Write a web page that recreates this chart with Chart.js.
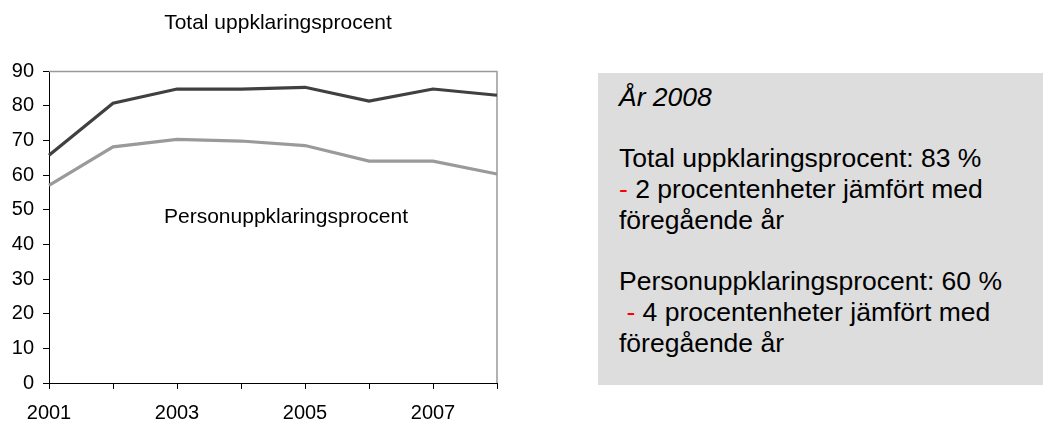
<!DOCTYPE html>
<html lang="sv">
<head>
<meta charset="utf-8">
<title>Uppklaringsprocent</title>
<script src="https://cdn.jsdelivr.net/npm/chart.js@4/dist/chart.umd.min.js"></script>
<style>
    body { margin: 0; background: #fff; }
    .wrap { position: relative; width: 1043px; height: 423px; overflow: hidden; }
    #chart { position: absolute; left: 0; top: 0; }
    .info {
        position: absolute; left: 598px; top: 73px; width: 445px; height: 312px;
        background: #dddddd; box-sizing: border-box; padding: 9px 0 0 21px;
        font-family: "Liberation Sans", Arial, sans-serif; font-size: 26.5px; color: #000;
    }
    .info div { height: 30.7px; line-height: 30.7px; white-space: pre; }
    .info .year { font-style: italic; }
    .red { color: #ff0000; }
</style>
</head>
<body>
<div class="wrap">
    <canvas id="chart" width="1043" height="423"></canvas>
    <div class="info">
        <div class="year">År 2008</div>
        <div></div>
        <div>Total uppklaringsprocent: 83 %</div>
        <div><span class="red">-</span> 2 procentenheter jämfört med</div>
        <div>föregående år</div>
        <div></div>
        <div>Personuppklaringsprocent: 60 %</div>
        <div> <span class="red">-</span> 4 procentenheter jämfört med</div>
        <div>föregående år</div>
    </div>
</div>
<script>
// Data
const years = ["2001", "2002", "2003", "2004", "2005", "2006", "2007", "2008"];
const totalValues = [65.7, 80.7, 84.8, 84.8, 85.3, 81.3, 84.8, 83.0];
const personValues = [57.0, 68.1, 70.3, 69.8, 68.5, 64.0, 64.0, 60.3];
const totalLabel = "Total uppklaringsprocent";
const personLabel = "Personuppklaringsprocent";

const FONT = '"Liberation Sans", Arial, sans-serif';

// Texts and the grey frame on top/right of the plot
const annotations = {
    id: 'annotations',
    beforeDatasetsDraw(chart) {
        const { ctx, chartArea: a } = chart;
        ctx.save();
        ctx.strokeStyle = '#999999';
        ctx.lineWidth = 1.5;
        ctx.beginPath();
        ctx.moveTo(a.left, a.top + 0.5);
        ctx.lineTo(a.right, a.top + 0.5);
        ctx.lineTo(a.right, a.bottom);
        ctx.stroke();
        ctx.restore();
    },
    afterDraw(chart) {
        const { ctx, chartArea: a } = chart;
        ctx.save();
        ctx.fillStyle = '#000';
        ctx.textAlign = 'center';
        ctx.textBaseline = 'alphabetic';
        ctx.font = '21px ' + FONT;
        ctx.fillText(totalLabel, 278, 29);
        ctx.fillText(personLabel, a.left + 237, 223);
        ctx.restore();
    }
};

new Chart(document.getElementById('chart'), {
    type: 'line',
    data: {
        labels: years,
        datasets: [
            { label: totalLabel, data: totalValues, borderColor: '#404040', borderWidth: 3.2 },
            { label: personLabel, data: personValues, borderColor: '#9a9a9a', borderWidth: 3.2 }
        ]
    },
    options: {
        responsive: false,
        animation: false,
        devicePixelRatio: 1,
        layout: { padding: { top: 71, right: 546, bottom: 0, left: 0 } },
        elements: {
            line: { tension: 0, fill: false, borderCapStyle: 'butt', borderJoinStyle: 'miter' },
            point: { radius: 0, hoverRadius: 0 }
        },
        plugins: {
            legend: { display: false },
            title: { display: false },
            tooltip: { enabled: false }
        },
        scales: {
            x: {
                offset: false,
                afterFit: (s) => { s.height = 40; },
                grid: { drawOnChartArea: false, drawTicks: true, tickLength: 6, color: '#000' },
                border: { color: '#000', width: 1 },
                ticks: {
                    autoSkip: false, maxRotation: 0, padding: 12, color: '#000',
                    font: { family: FONT, size: 20 },
                    callback: (v, i) => (i % 2 === 0 ? years[i] : '')
                }
            },
            y: {
                min: 0, max: 90,
                afterFit: (s) => { s.width = 49; },
                grid: { drawOnChartArea: false, drawTicks: true, tickLength: 6, color: '#000' },
                border: { color: '#000', width: 1 },
                ticks: { stepSize: 10, padding: 9, color: '#000', font: { family: FONT, size: 20 } }
            }
        }
    },
    plugins: [annotations]
});
</script>
</body>
</html>
